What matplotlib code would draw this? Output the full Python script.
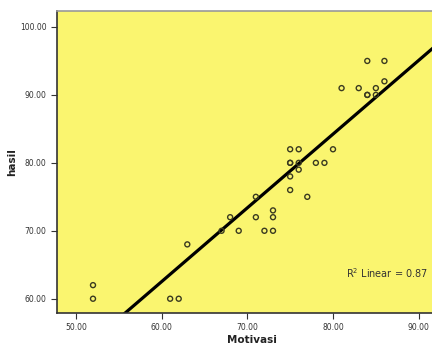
import numpy as np
import matplotlib.pyplot as plt
from matplotlib.ticker import FormatStrFormatter

# Motivasi (x) vs hasil (y)
motivasi = [52, 52, 61, 62, 63, 67, 69, 72, 73, 68, 71, 73, 73, 71, 75, 77,
            75, 76, 75, 75, 76, 78, 79, 75, 76, 80, 84, 86, 81, 83, 85, 86,
            84, 84, 85]
hasil = [62, 60, 60, 60, 68, 70, 70, 70, 70, 72, 72, 72, 73, 75, 76, 75,
         78, 79, 80, 80, 80, 80, 80, 82, 82, 82, 95, 95, 91, 91, 91, 92,
         90, 90, 90]
r2_label = "R$^2$ Linear = 0.87"

W, H = 432, 347
fig = plt.figure(figsize=(W / 100, H / 100), dpi=100)
# axes runs past the right edge, as in the cropped original
ax = fig.add_axes([57 / W, 1 - 313 / H, 390 / W, 302 / H])
ax.set_facecolor("#faf56f")

x = np.array(motivasi, dtype=float)
y = np.array(hasil, dtype=float)
ax.scatter(x, y, s=13, facecolors="none", edgecolors="#3a3a20", linewidths=1.0, zorder=3)

slope, icpt = np.polyfit(x, y, 1)
xx = np.array([40, 100])
ax.plot(xx, slope * xx + icpt, color="black", lw=2.3, zorder=2)

ax.set_xlim(47.8, 93.3)
ax.set_ylim(57.9, 102.35)
ax.set_xticks([50, 60, 70, 80, 90])
ax.set_yticks([60, 70, 80, 90, 100])
ax.xaxis.set_major_formatter(FormatStrFormatter("%.2f"))
ax.yaxis.set_major_formatter(FormatStrFormatter("%.2f"))
ax.tick_params(labelsize=5.5, length=4, width=0.8, colors="#333333", labelcolor="#333333")

for s in ["left", "bottom"]:
    ax.spines[s].set_color("#333333")
    ax.spines[s].set_linewidth(1.2)
ax.spines["top"].set_color("#999999")
ax.spines["top"].set_linewidth(1.2)
ax.spines["right"].set_visible(False)

ax.set_xlabel("Motivasi", fontsize=7.5, fontweight="bold", color="#222222", labelpad=2)
ax.set_ylabel("hasil", fontsize=7.5, fontweight="bold", color="#222222", labelpad=2)

ax.text(428 / W, 1 - 273 / H, r2_label, transform=fig.transFigure, fontsize=7,
        color="#333333", va="center", ha="right")

fig.savefig("out.png", dpi=100)
